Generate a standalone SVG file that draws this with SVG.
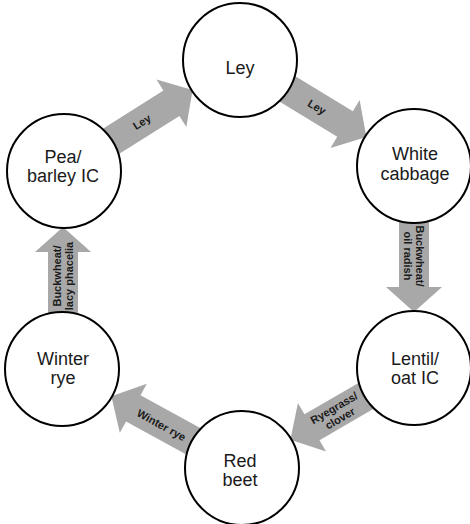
<svg xmlns="http://www.w3.org/2000/svg" width="470" height="524" viewBox="0 0 470 524">
<style>
.arr{fill:#a8a8a8;stroke:none}
.node{fill:#fff;stroke:#000;stroke-width:2}
.nt{font-family:"Liberation Sans",Arial,sans-serif;font-size:18px;fill:#1a1a1a;text-anchor:middle}
.at{font-family:"Liberation Sans",Arial,sans-serif;font-size:11px;font-weight:bold;fill:#1a1a1a;text-anchor:middle}
</style>
<rect width="470" height="524" fill="#fff"/>
<g id="connectors">
<g id="a1"><polygon class="arr" transform="translate(104.6,145.4) rotate(-32.24)" points="0,-15 79,-15 79,-28 104,0 79,28 79,15 0,15"/>
<text class="at" transform="translate(141.8,121.9) rotate(-32.24)" y="4">Ley</text></g>
<g id="a2"><polygon class="arr" transform="translate(281,85) rotate(31.35)" points="0,-15 75,-15 75,-28 100,0 75,28 75,15 0,15"/>
<text class="at" transform="translate(316.9,106.9) rotate(31.35)" y="4">Ley</text></g>
<g id="a3"><polygon class="arr" transform="translate(414,214) rotate(90)" points="0,-15 73,-15 73,-28 98,0 73,28 73,15 0,15"/>
<text class="at" transform="translate(414,256) rotate(90)"><tspan x="0" y="-2">Buckwheat/</tspan><tspan x="0" y="10">oil radish</tspan></text></g>
<g id="a4"><polygon class="arr" transform="translate(372.5,392.1) rotate(149.83)" points="0,-15 70,-15 70,-28 95,0 70,28 70,15 0,15"/>
<text class="at" transform="translate(337,413) rotate(-30.17)"><tspan x="0" y="-2">Ryegrass/</tspan><tspan x="0" y="10">clover</tspan></text></g>
<g id="a5"><polygon class="arr" transform="translate(199.9,444.9) rotate(208.81)" points="0,-15 76,-15 76,-28 101,0 76,28 76,15 0,15"/>
<text class="at" transform="translate(161.5,425) rotate(28.81)" y="4">Winter rye</text></g>
<g id="a6"><polygon class="arr" transform="translate(63,321) rotate(-90)" points="0,-15 69,-15 69,-28 94,0 69,28 69,15 0,15"/>
<text class="at" transform="translate(63,276) rotate(-90)"><tspan x="0" y="-2">Buckwheat/</tspan><tspan x="0" y="10">lacy phacelia</tspan></text></g>
</g>
<g id="ley"><circle class="node" cx="240" cy="60" r="57"/><text class="nt" x="240" y="74">Ley</text></g>
<g id="white-cabbage"><circle class="node" cx="414" cy="166" r="57"/><text class="nt" x="415" y="160">White</text><text class="nt" x="415" y="180">cabbage</text></g>
<g id="lentil"><circle class="node" cx="414" cy="368" r="57"/><text class="nt" x="415" y="365">Lentil/</text><text class="nt" x="415" y="384">oat IC</text></g>
<g id="red-beet"><circle class="node" cx="242" cy="468" r="57"/><text class="nt" x="240" y="467">Red</text><text class="nt" x="240" y="486">beet</text></g>
<g id="winter-rye"><circle class="node" cx="62" cy="369" r="57"/><text class="nt" x="63" y="365">Winter</text><text class="nt" x="63" y="384">rye</text></g>
<g id="pea"><circle class="node" cx="64" cy="171" r="57"/><text class="nt" x="63" y="163">Pea/</text><text class="nt" x="63" y="182">barley IC</text></g>
</svg>
